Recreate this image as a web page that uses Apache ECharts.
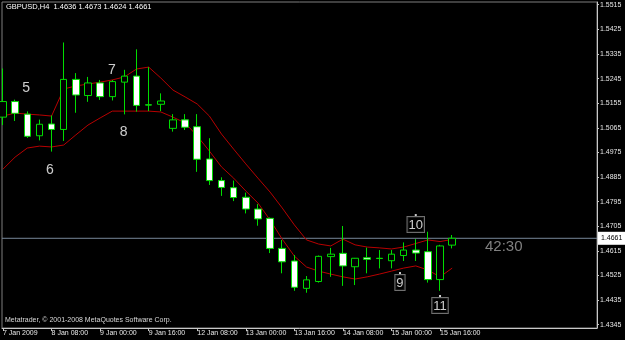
<!DOCTYPE html>
<html><head><meta charset="utf-8">
<script src="https://cdn.jsdelivr.net/npm/echarts@6/dist/echarts.min.js"></script>
<style>html,body{margin:0;padding:0;background:#000;}#c{width:625px;height:340px;}</style>
</head><body><div id="c"></div>
<script>
const symbolName = 'GBPUSD,H4';
const tickBars = [0, 4, 8, 12, 16, 20, 24, 28, 32, 36];
const tickLabels = ['7 Jan 2009', '8 Jan 08:00', '9 Jan 00:00', '9 Jan 16:00', '12 Jan 08:00', '13 Jan 00:00', '13 Jan 16:00', '14 Jan 08:00', '15 Jan 00:00', '15 Jan 16:00'];
const priceTicks = [1.4345, 1.4435, 1.4525, 1.4615, 1.4705, 1.4795, 1.4885, 1.4975, 1.5065, 1.5155, 1.5245, 1.5335, 1.5425, 1.5515];

const opens  = [1.5104,1.5161,1.5115,1.5036,1.5079,1.5059,1.5242,1.5183,1.5229,1.5179,1.5232,1.5254,1.5149,1.5151,1.5063,1.5094,1.5069,1.4951,1.4872,1.4846,1.4811,1.4768,1.4734,1.4624,1.4578,1.4478,1.4503,1.4594,1.4606,1.4557,1.4590,1.4588,1.4579,1.4598,1.4618,1.4612,1.4510,1.4636];
const highs  = [1.5282,1.5168,1.5125,1.5095,1.5110,1.5377,1.5265,1.5251,1.5240,1.5240,1.5277,1.5352,1.5287,1.5191,1.5115,1.5115,1.5115,1.5027,1.4884,1.4872,1.4828,1.4786,1.4737,1.4655,1.4600,1.4523,1.4598,1.4626,1.4706,1.4589,1.4627,1.4618,1.4618,1.4646,1.4658,1.4685,1.4637,1.4673];
const lows   = [1.5075,1.5090,1.5028,1.5019,1.4978,1.5017,1.5120,1.5160,1.5167,1.5165,1.5114,1.5124,1.5126,1.5126,1.5051,1.5057,1.4904,1.4856,1.4816,1.4797,1.4752,1.4707,1.4607,1.4533,1.4469,1.4462,1.4499,1.4520,1.4487,1.4490,1.4533,1.4551,1.4551,1.4578,1.4578,1.4499,1.4469,1.4624];
const closes = [1.5161,1.5118,1.5034,1.5078,1.5059,1.5242,1.5185,1.5229,1.5179,1.5234,1.5254,1.5147,1.5148,1.5163,1.5094,1.5067,1.4950,1.4872,1.4847,1.4810,1.4768,1.4732,1.4624,1.4575,1.4482,1.4509,1.4595,1.4603,1.4560,1.4588,1.4584,1.4587,1.4603,1.4618,1.4607,1.4510,1.4633,1.4661];

const upperBand = [1.5108,1.5119,1.5115,1.5112,1.5108,1.5207,1.5218,1.5225,1.5232,1.5240,1.5251,1.5280,1.5287,1.5247,1.5203,1.5178,1.5152,1.5108,1.5042,1.4987,1.4933,1.4881,1.4830,1.4772,1.4710,1.4655,1.4640,1.4633,1.4658,1.4637,1.4629,1.4626,1.4622,1.4629,1.4642,1.4655,1.4649,1.4657];
const lowerBand = [1.4914,1.4958,1.4991,1.4998,1.4995,1.5002,1.5039,1.5075,1.5101,1.5126,1.5126,1.5126,1.5126,1.5123,1.5104,1.5083,1.5035,1.4980,1.4922,1.4881,1.4834,1.4790,1.4728,1.4658,1.4596,1.4556,1.4541,1.4530,1.4520,1.4512,1.4520,1.4530,1.4541,1.4552,1.4560,1.4545,1.4520,1.4552];

const markTexts  = ['5', '6', '7', '8', '9', '10', '11'];
const markBars   = [1.9, 3.87, 8.98, 9.93, 32.7, 34.0, 36.0];
const markPrices = [1.5210, 1.4911, 1.5276, 1.5050, 1.4534, 1.4746, 1.4450];
const markBoxed  = [false, false, false, false, true, true, true];

const bidPrice = 1.4661;
const timerText = '42:30';
const copyright = 'Metatrader, \u00A9 2001-2008 MetaQuotes Software Corp.';

const X_MIN = -0.082, X_MAX = 48.93;
const FF = '"Liberation Sans", Arial, sans-serif';
const last = opens.length - 1;
const titleText = symbolName + '  ' + [opens[last], highs[last], lows[last], closes[last]].map(v => v.toFixed(4)).join(' ');

const candleData = opens.map((o, i) => [i, o, closes[i], lows[i], highs[i]]);
const markData = markTexts.map((t, i) => {
  if (markBoxed[i]) {
    return {
      value: [markBars[i], markPrices[i]],
      symbol: 'rect', symbolSize: [2, 2],
      itemStyle: { color: '#ffffff' },
      label: { show: true, position: 'bottom', distance: 1, formatter: t, color: '#ffffff', fontSize: 13, fontFamily: FF,
        borderColor: '#8c8c8c', borderWidth: 1, backgroundColor: '#000', padding: [2, 1, 0, 1], lineHeight: 13 }
    };
  }
  return {
    value: [markBars[i], markPrices[i]],
    symbol: 'circle', symbolSize: 1,
    itemStyle: { color: 'rgba(0,0,0,0)' },
    label: { show: true, position: 'inside', formatter: t, color: '#ffffff', fontSize: 14, fontFamily: FF }
  };
});

const chart = echarts.init(document.getElementById('c'), null, { renderer: 'canvas' });
chart.setOption({
  animation: false,
  backgroundColor: '#000',
  textStyle: { fontFamily: FF },
  grid: { left: 2, right: 28, top: 2, bottom: 12, show: true, borderColor: '#7f7f7f', borderWidth: 1, backgroundColor: '#000' },
  xAxis: {
    type: 'value', min: X_MIN, max: X_MAX,
    splitLine: { show: false },
    axisLine: { show: true, onZero: false, lineStyle: { color: '#c8c8c8', width: 1 } },
    axisTick: { show: true, customValues: tickBars, length: 3, lineStyle: { color: '#c8c8c8' } },
    axisLabel: { show: true, customValues: tickBars, formatter: v => tickLabels[tickBars.indexOf(Math.round(v))] || '',
      align: 'left', margin: 2, color: '#e6e6e6', fontSize: 7, fontFamily: FF }
  },
  yAxis: {
    type: 'value', position: 'right', min: 1.4333, max: 1.5525,
    splitLine: { show: false },
    axisLine: { show: true, onZero: false, lineStyle: { color: '#c8c8c8', width: 1 } },
    axisTick: { show: true, customValues: priceTicks, length: 2, lineStyle: { color: '#c8c8c8' } },
    axisLabel: { show: true, customValues: priceTicks, formatter: v => v.toFixed(4), margin: 3,
      color: '#e6e6e6', fontSize: 7, fontFamily: FF }
  },
  series: [
    {
      type: 'line', data: [[X_MIN, bidPrice], [X_MAX, bidPrice]], showSymbol: false, symbol: 'none',
      lineStyle: { color: '#778899', width: 1 }, z: 1, silent: true,
      endLabel: { show: true, distance: 1, formatter: () => bidPrice.toFixed(4), color: '#000', backgroundColor: '#ffffff',
        padding: [3, 3, 2, 3], fontSize: 7, lineHeight: 8, fontFamily: FF }
    },
    {
      type: 'line', data: upperBand.map((v, i) => [i, v]), showSymbol: false, symbol: 'none',
      lineStyle: { color: '#b80000', width: 1 }, z: 2
    },
    {
      type: 'line', data: lowerBand.map((v, i) => [i, v]), showSymbol: false, symbol: 'none',
      lineStyle: { color: '#b80000', width: 1 }, z: 2
    },
    {
      type: 'candlestick', data: candleData, barWidth: 7, z: 3,
      itemStyle: { color: '#000000', color0: '#ffffff', borderColor: '#00dd00', borderColor0: '#00dd00', borderWidth: 1 }
    },
    {
      type: 'scatter', data: markData, z: 5, silent: true
    }
  ],
  graphic: [
    { type: 'text', left: 6, top: 3, style: { text: titleText, fill: '#ffffff', font: '7.5px ' + FF } },
    { type: 'text', left: 5, top: 317, style: { text: copyright, fill: '#d8d8d8', font: '7px ' + FF } },
    { type: 'text', left: 485, top: 239, style: { text: timerText, fill: '#808080', font: '15px ' + FF } }
  ]
});
</script></body></html>
